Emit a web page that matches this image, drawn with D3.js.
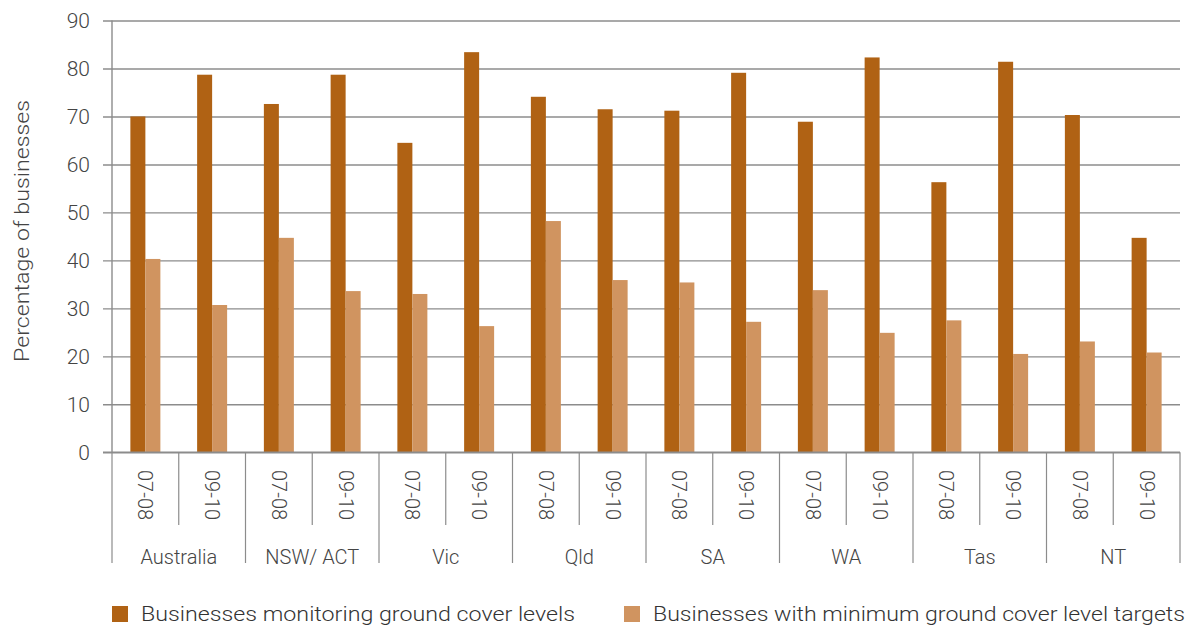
<!DOCTYPE html>
<html>
<head>
<meta charset="utf-8">
<script src="https://cdn.jsdelivr.net/npm/d3@7"></script>
<style>
  html, body { margin: 0; padding: 0; background: #fff; }
  svg text { font-family: "Helvetica Neue", Roboto, "Liberation Sans", Arial, sans-serif; font-weight: 300; fill: #333; }
</style>
</head>
<body>
<svg id="chart" width="1197" height="628"></svg>
<script>
const regions = ["Australia", "NSW/ ACT", "Vic", "Qld", "SA", "WA", "Tas", "NT"];
const periods = ["07-08", "09-10"];
const seriesNames = ["Businesses monitoring ground cover levels", "Businesses with minimum ground cover level targets"];
const monitoring = [70.0, 78.7, 72.6, 78.7, 64.5, 83.4, 74.1, 71.5, 71.2, 79.1, 68.9, 82.3, 56.3, 81.4, 70.3, 44.7];
const targets    = [40.3, 30.7, 44.7, 33.6, 33.0, 26.3, 48.2, 35.9, 35.4, 27.2, 33.8, 24.9, 27.5, 20.5, 23.1, 20.8];
const yTicks = [0, 10, 20, 30, 40, 50, 60, 70, 80, 90];
const colors = ["#B06214", "#D09460"];

const svg = d3.select("#chart");
const pLeft = 112, pRight = 1180, pTop = 20.5, pBottom = 452.3;

const cats = [];
regions.forEach(r => periods.forEach(p => cats.push(r + "|" + p)));

const x = d3.scaleBand().domain(cats).range([pLeft, pRight]).paddingInner(0).paddingOuter(0);
const y = d3.scaleLinear().domain([0, 90]).range([pBottom, pTop]);
const barW = 15;
const xs = d3.scaleBand().domain([0, 1]).range([0, barW * 2]);

// gridlines with outward ticks
const yAxis = d3.axisLeft(y).tickValues(yTicks).tickSize(-(pRight - pLeft)).tickPadding(22);
const gy = svg.append("g").attr("transform", `translate(${pLeft},0)`).call(yAxis);
gy.select(".domain").remove();
gy.selectAll(".tick line").attr("x1", -9).attr("stroke", "#8c8c8c").attr("stroke-width", 1.4);
gy.selectAll(".tick text").attr("font-size", 21).style("fill", "#444");

// bars
const data = cats.map((c, i) => ({ c, v: [monitoring[i], targets[i]] }));
const g = svg.append("g");
data.forEach(d => {
  const cx = x(d.c) + x.bandwidth() / 2 - barW;
  d.v.forEach((v, k) => {
    g.append("rect")
      .attr("x", cx + xs(k))
      .attr("y", y(v))
      .attr("width", xs.bandwidth())
      .attr("height", y(0) - y(v))
      .attr("fill", colors[k]);
  });
});

// axis lines
svg.append("line").attr("x1", pLeft).attr("x2", pLeft).attr("y1", pTop).attr("y2", pBottom)
  .attr("stroke", "#8c8c8c").attr("stroke-width", 1.4);
svg.append("line").attr("x1", pLeft - 9).attr("x2", pRight).attr("y1", pBottom).attr("y2", pBottom)
  .attr("stroke", "#8c8c8c").attr("stroke-width", 1.4);

// category separators
const sepG = svg.append("g");
cats.forEach((c, i) => {
  const xx = x(c);
  const isGroup = i % 2 === 0;
  sepG.append("line").attr("x1", xx).attr("x2", xx).attr("y1", pBottom).attr("y2", isGroup ? 563 : 525)
    .attr("stroke", "#8c8c8c").attr("stroke-width", 1.2);
});
sepG.append("line").attr("x1", pRight).attr("x2", pRight).attr("y1", pBottom).attr("y2", 563)
  .attr("stroke", "#8c8c8c").attr("stroke-width", 1.2);

// period labels (rotated)
cats.forEach(c => {
  const cx = x(c) + x.bandwidth() / 2;
  svg.append("text")
    .attr("transform", `translate(${cx - 7},${470}) rotate(90)`)
    .attr("font-size", 20)
    .attr("text-anchor", "start")
    .style("fill", "#444")
    .text(c.split("|")[1]);
});

// region labels
regions.forEach((r, i) => {
  const x0 = x(r + "|" + periods[0]);
  const cx = x0 + x.bandwidth();
  svg.append("text").attr("x", cx).attr("y", 564).attr("text-anchor", "middle")
    .attr("font-size", 20).style("fill", "#444").text(r);
});

// y axis title
svg.append("text")
  .attr("transform", `translate(29,${231}) rotate(-90)`)
  .attr("text-anchor", "middle").attr("font-size", 21).style("fill", "#444")
  .attr("textLength", 262).attr("lengthAdjust", "spacingAndGlyphs")
  .text("Percentage of businesses");

// legend
const legendX = [112, 624];
const legendLen = [434, 532];
seriesNames.forEach((n, k) => {
  svg.append("rect").attr("x", legendX[k]).attr("y", 606).attr("width", 16).attr("height", 16).attr("fill", colors[k]);
  svg.append("text").attr("x", legendX[k] + 29).attr("y", 621).attr("font-size", 21)
    .attr("textLength", legendLen[k]).attr("lengthAdjust", "spacingAndGlyphs")
    .style("fill", "#333").text(n);
});
</script>
</body>
</html>
